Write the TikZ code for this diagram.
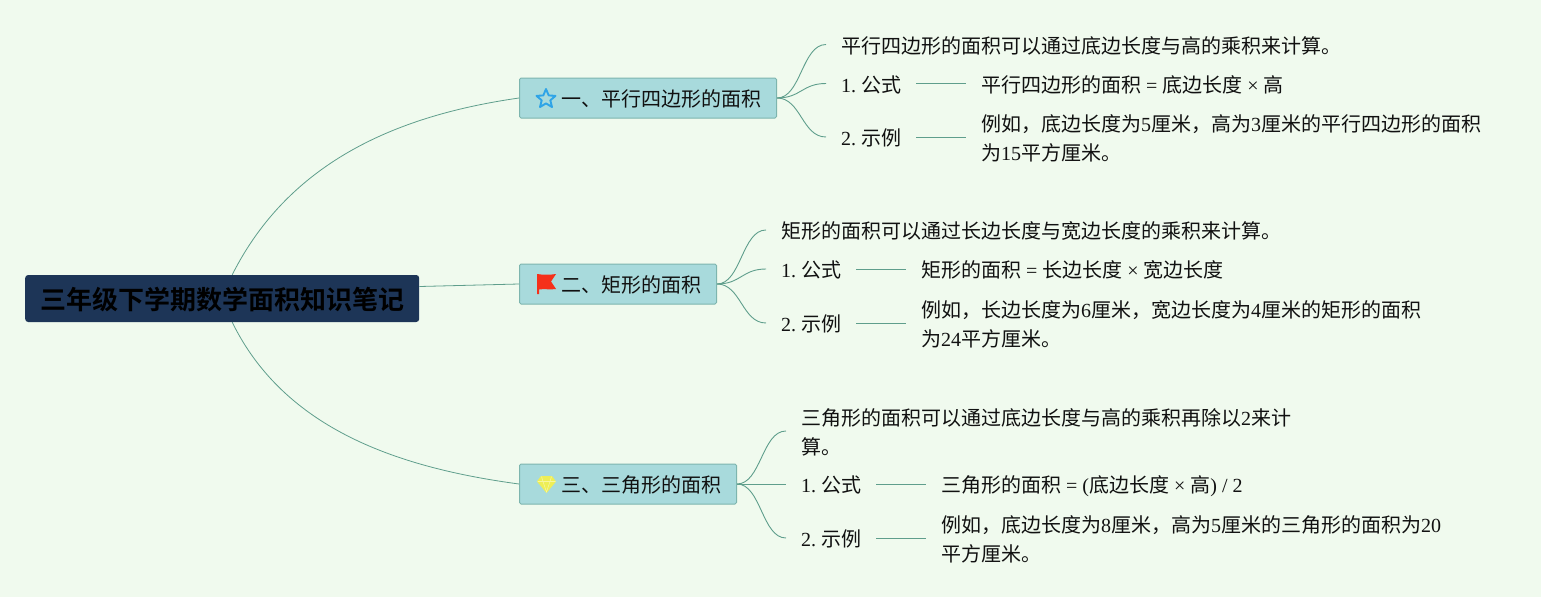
\documentclass[tikz,border=0pt]{standalone}
\usepackage{fontspec}
\setmainfont{Liberation Serif}
\newfontfamily\cjkfont{Noto Sans CJK SC}
\newfontfamily\cjkbold{Noto Sans CJK SC Bold}
\newcommand{\zh}[1]{{\cjkfont #1}}
\newcommand{\lift}{\rule{0pt}{20pt}}
\frenchspacing
\definecolor{pagebg}{HTML}{F0FAEE}
\definecolor{rootfill}{HTML}{1D3557}
\definecolor{branchfill}{HTML}{A8DADC}
\definecolor{branchline}{HTML}{7DB5AE}
\definecolor{edgecol}{HTML}{5F9E8C}
\definecolor{inkcol}{HTML}{111111}
\definecolor{starcol}{HTML}{2FA4E7}
\definecolor{flagcol}{HTML}{F5301A}
\definecolor{gemcol}{HTML}{EEEE55}
\definecolor{gemline}{HTML}{F6F6A0}
\pgfdeclarelayer{bottomlayer}
\pgfdeclarelayer{edgelayer}
\pgfsetlayers{bottomlayer,edgelayer,main}
\tikzset{
  x=1pt,y=-1pt,
  rootbox/.style={anchor=west,fill=rootfill,rounded corners=3pt,minimum height=47pt,minimum width=394pt,inner xsep=15pt,inner ysep=0pt,text=black,font=\fontsize{26}{30}\selectfont,text height=24pt,text depth=2pt},
  branchbox/.style={anchor=west,fill=branchfill,draw=branchline,line width=1pt,rounded corners=1.5pt,minimum height=40pt,inner xsep=15.5pt,inner ysep=0pt,text=inkcol,font=\fontsize{20}{24}\selectfont,text height=18pt,text depth=2pt},
  leafone/.style={anchor=west,inner xsep=15pt,inner ysep=0pt,text=inkcol,font=\fontsize{20}{29}\selectfont,text height=18pt,text depth=1pt},
  leafmulti/.style={anchor=west,inner xsep=15pt,inner ysep=0pt,text=inkcol,align=left,font=\fontsize{20}{29}\selectfont},
  rootedge/.style={draw=edgecol,line width=0.8pt},
  leafedge/.style={draw=edgecol,line width=0.9pt},
  bendout/.style={to path={.. controls +(24,0) and +(-24,0) .. (\tikztotarget)}}
}
\begin{document}
\begin{tikzpicture}
\begin{pgfonlayer}{bottomlayer}
\fill[pagebg] (0,0) rectangle (1541,597);
\end{pgfonlayer}
\useasboundingbox (0,0) rectangle (1541,597);

\node[rootbox] (root) at (25,298.5) {{\cjkbold 三年级下学期数学面积知识笔记}};

\node[branchbox] (b1) at (519,98) {\hspace*{26pt}\zh{一、平行四边形的面积}};
\node[branchbox] (b2) at (519,284) {\hspace*{26pt}\zh{二、矩形的面积}};
\node[branchbox] (b3) at (519,484) {\hspace*{26pt}\zh{三、三角形的面积}};

% branch 1
\node[leafone] (a0) at (826,44.5) {\zh{平行四边形的面积可以通过底边长度与高的乘积来计算。}};
\node[leafone] (a1) at (826,83.5) {1. \zh{公式}};
\node[leafone] (a1d) at (966,83.5) {\zh{平行四边形的面积} = \zh{底边长度} × \zh{高}};
\node[leafone] (a2) at (826,137) {2. \zh{示例}};
\node[leafmulti] (a2d) at (966,137) {\lift\zh{例如，底边长度为}5\zh{厘米，高为}3\zh{厘米的平行四边形的面积}\\\zh{为}15\zh{平方厘米。}};

% branch 2
\node[leafone] (c0) at (766,230) {\zh{矩形的面积可以通过长边长度与宽边长度的乘积来计算。}};
\node[leafone] (c1) at (766,269) {1. \zh{公式}};
\node[leafone] (c1d) at (906,269) {\zh{矩形的面积} = \zh{长边长度} × \zh{宽边长度}};
\node[leafone] (c2) at (766,323) {2. \zh{示例}};
\node[leafmulti] (c2d) at (906,323) {\lift\zh{例如，长边长度为}6\zh{厘米，宽边长度为}4\zh{厘米的矩形的面积}\\\zh{为}24\zh{平方厘米。}};

% branch 3
\node[leafmulti] (d0) at (786,431) {\lift\zh{三角形的面积可以通过底边长度与高的乘积再除以}2\zh{来计}\\\zh{算。}};
\node[leafone] (d1) at (786,484) {1. \zh{公式}};
\node[leafone] (d1d) at (926,484) {\zh{三角形的面积} = (\zh{底边长度} × \zh{高}) / 2};
\node[leafone] (d2) at (786,538) {2. \zh{示例}};
\node[leafmulti] (d2d) at (926,538) {\lift\zh{例如，底边长度为}8\zh{厘米，高为}5\zh{厘米的三角形的面积为}20\\\zh{平方厘米。}};

\begin{pgfonlayer}{edgelayer}
\draw[rootedge] ([xshift=10pt]root.north) .. controls (290,160) and (400,115) .. (b1.west);
\draw[rootedge] ([yshift=12pt]root.east) -- (b2.west);
\draw[rootedge] ([xshift=10pt]root.south) .. controls (285,430) and (400,468) .. (b3.west);
\foreach \br/\kids in {b1/{a0,a1,a2},b2/{c0,c1,c2},b3/{d0,d1,d2}}{
  \foreach \k in \kids { \draw[leafedge] (\br.east) to[bendout] (\k.west); }
}
\draw[leafedge] (a1.east) -- (a1d.west);
\draw[leafedge] (a2.east) -- (a2d.west);
\draw[leafedge] (c1.east) -- (c1d.west);
\draw[leafedge] (c2.east) -- (c2d.west);
\draw[leafedge] (d1.east) -- (d1d.west);
\draw[leafedge] (d2.east) -- (d2d.west);
\end{pgfonlayer}

% icons
\draw[draw=starcol,line width=1.9pt,line join=round,fill=branchfill]
  (546,89) -- (548.7,95.4) -- (555.5,95.9) -- (550.3,100.3) -- (552,107) -- (546,103.4) -- (540,107) -- (541.7,100.3) -- (536.5,95.9) -- (543.3,95.4) -- cycle;
\fill[flagcol] (537,274) .. controls (543,275) and (550,275) .. (556,274) -- (551,281.5) -- (556,289) .. controls (550,290) and (544,288.5) .. (539,289.5) -- (539,294) -- (537,294) -- cycle;
\fill[gemcol] (541,476) -- (552,476) -- (556,481.5) -- (546.5,493) -- (537,481.5) -- cycle;
\draw[gemline,line width=0.6pt] (537.5,481.5) -- (555.5,481.5) (541.5,476.5) -- (543,481.5) -- (546.5,492) -- (550,481.5) -- (551.5,476.5);
\end{tikzpicture}
\end{document}
